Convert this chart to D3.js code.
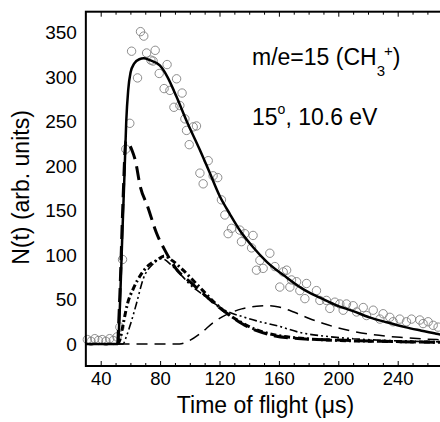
<!DOCTYPE html>
<html>
<head>
<meta charset="utf-8">
<script src="https://d3js.org/d3.v7.min.js"></script>
<style>
  body { margin: 0; background: #fff; }
  svg { display: block; font-family: "Liberation Sans", Arial, Helvetica, sans-serif; }
</style>
</head>
<body>
<div class="graph"></div>
<script>
// Measured time-of-flight points (open circles)
var dataT = [31, 33.5, 36, 38.5, 41, 43.5, 46, 48.5, 51, 52.9, 54.7, 56.9, 59.6,
  60.8, 64.8, 66.8, 69, 70.9, 73.8, 75.3, 76.7, 79.4, 82.7, 84.7, 86.6, 89.3, 91.1,
  93.3, 94.8, 96.7, 97.8, 99.6, 102.3, 104.5, 106.8, 109, 112.4, 115.7, 118.8, 121.3,
  123.6, 125.8, 128.1, 133.7, 134.8, 137, 141.6, 142.6, 144.9, 147.2, 149.4, 153.9,
  157.3, 160.6, 162.9, 165.2, 167.4, 168.5, 171.9, 174.1, 177.5, 178.6, 185.3, 187.6,
  192, 194.3, 197.7, 201, 203.3, 205.5, 210, 212.3, 216.8, 219, 223.5, 228, 230.2,
  234.7, 236.9, 241.4, 245.9, 249.3, 254.9, 257.1, 260.5, 263.9, 267.2];
var dataN = [5, 3, 6, 4, 5, 3, 6, 4, 8, 19, 95, 219, 248,
  329, 299, 351, 346, 327, 319, 318, 330, 304, 287, 314, 285, 266, 298,
  268, 282, 253, 240, 224, 244, 245, 192, 180, 206, 189, 187, 162,
  145, 124, 130, 128, 115, 124, 108, 122, 83, 94, 85, 102,
  87, 64, 81, 83, 64, 72, 70, 60, 51, 68, 60, 49,
  49, 40, 47, 45, 38, 45, 43, 36, 41, 32, 38, 28, 34,
  30, 25, 28, 25, 28, 27, 23, 25, 21, 19];

// Total fit (solid)
var fitT = [30, 51.5, 53, 54.5, 56, 57.2, 58.5, 60.1, 62.5, 66, 69, 73, 79.8, 85, 91,
  98, 106.8, 113, 120.2, 127, 134, 142.5, 152, 165, 176, 187.6, 198, 210, 221, 232.5,
  245, 256, 266, 280];
var fitN = [0, 0, 45, 120, 190, 250, 285, 305, 315, 320, 321, 319, 313, 300, 278,
  250, 218, 194, 166, 146, 127, 109, 92, 75, 62, 52, 44, 37, 30, 24.5,
  19, 15, 11.5, 8];

// Fast component (heavy long dash)
var fastT = [51.5, 53, 55, 57, 58.5, 61, 63.5, 66.5, 71.5, 77.5, 84, 91, 100, 108.8,
  117, 124.7, 135, 145, 155, 175, 200, 230, 266, 280];
var fastN = [0, 60, 160, 228, 226, 218, 205, 178, 155, 125, 103, 84, 70, 57,
  45, 35, 23, 15, 10, 6, 4.5, 3, 2, 1.5];

// Second component (heavy dash-dot)
var midT = [51.5, 53, 55.2, 58, 61.9, 67.5, 72, 77.6, 83, 88, 95.5, 102, 108.8,
  117, 124.7, 135, 145, 155, 175, 200, 230, 266, 280];
var midN = [0, 5, 23, 45, 62, 79, 88, 94, 99, 94, 83, 72, 60,
  46, 35, 24, 16, 11, 6.5, 4, 3, 2, 1.5];

// Third component (thin dash-dot-dot)
var slowT = [51.5, 55, 57.2, 60, 64, 68.6, 75.3, 81, 88, 95, 100, 110, 117, 124.7,
  135, 145, 160, 174, 190, 210, 240, 266, 280];
var slowN = [0, 0, 8, 22, 45, 73, 90, 96, 88, 76, 67, 54, 45, 37,
  31, 26, 20, 13, 9, 6, 3.5, 2.5, 2];

// Late hump (thin dashed)
var humpT = [52, 93, 100, 108, 115.7, 124.7, 135, 145, 151.7, 160, 170, 180, 190,
  207.8, 221, 241.5, 266, 280];
var humpN = [0, 0, 4, 13, 24, 33, 39.5, 42.5, 43, 41.5, 36, 29, 23,
  15, 11, 7.5, 5, 4];

var xTickLabels = [40, 80, 120, 160, 200, 240];
var yTickLabels = [0, 50, 100, 150, 200, 250, 300, 350];

var svgWidth = 440;
var svgHeight = 422;

var svg = d3.select('.graph')
  .append('svg')
  .attr('width', svgWidth)
  .attr('height', svgHeight);

// frame runs off the right edge of the picture
var x = d3.scaleLinear().domain([30, 280]).range([85.85, 457.1]);
var y = d3.scaleLinear().domain([-24.7, 373.4]).range([366, 11.7]);

function zip(ts, ns) {
  return ts.map(function(t, i) { return [t, ns[i]]; });
}

var line = d3.line()
  .x(function(d) { return x(d[0]); })
  .y(function(d) { return y(d[1]); })
  .curve(d3.curveMonotoneX);

// scatter first so the curves sit on top
svg.append('g')
  .selectAll('circle')
  .data(zip(dataT, dataN))
  .enter()
  .append('circle')
  .attr('cx', function(d) { return x(d[0]); })
  .attr('cy', function(d) { return y(d[1]); })
  .attr('r', 4.2)
  .attr('fill', 'none')
  .attr('stroke', '#808080')
  .attr('stroke-width', 0.9);

var curves = [
  { t: humpT, n: humpN, w: 1.5, dash: '11,7' },
  { t: slowT, n: slowN, w: 1.6, dash: '8,3,2,3,2,3' },
  { t: midT, n: midN, w: 3, dash: '6,3,2,3' },
  { t: fastT, n: fastN, w: 3, dash: '14,7' },
  { t: fitT, n: fitN, w: 2.5, dash: null }
];

svg.append('g')
  .selectAll('path')
  .data(curves)
  .enter()
  .append('path')
  .attr('d', function(c) { return line(zip(c.t, c.n)); })
  .attr('fill', 'none')
  .attr('stroke', '#000')
  .attr('stroke-width', function(c) { return c.w; })
  .attr('stroke-dasharray', function(c) { return c.dash; });

// frame
svg.append('rect')
  .attr('x', x(30))
  .attr('y', y.range()[1])
  .attr('width', x(280) - x(30))
  .attr('height', y.range()[0] - y.range()[1])
  .attr('fill', 'none')
  .attr('stroke', '#000')
  .attr('stroke-width', 2);

// ticks on top and bottom, pointing inwards
var minorTicks = d3.range(40, 280, 10).filter(function(t) { return t % 40 !== 0; });

var bottomAxis = svg.append('g').attr('transform', 'translate(0,' + y.range()[0] + ')');
bottomAxis.call(d3.axisBottom(x).tickValues(xTickLabels).tickSize(-5).tickPadding(6));
bottomAxis.append('g').call(d3.axisBottom(x).tickValues(minorTicks).tickSize(-3).tickFormat(''));

var topAxis = svg.append('g').attr('transform', 'translate(0,' + y.range()[1] + ')');
topAxis.call(d3.axisTop(x).tickValues(xTickLabels).tickSize(-5).tickFormat(''));
topAxis.append('g').call(d3.axisTop(x).tickValues(minorTicks).tickSize(-3).tickFormat(''));

svg.selectAll('.domain').remove();
svg.selectAll('.tick line').attr('stroke', '#000').attr('stroke-width', 1);

bottomAxis.selectAll('text')
  .attr('font-size', 18.5)
  .attr('font-family', '"Liberation Sans", Arial, sans-serif')
  .attr('fill', '#000');

// y labels only, no tick marks
var leftAxis = svg.append('g').attr('transform', 'translate(' + x(30) + ',0)');
leftAxis.call(d3.axisLeft(y).tickValues(yTickLabels).tickSize(0).tickPadding(9));
leftAxis.select('.domain').remove();
leftAxis.selectAll('text')
  .attr('font-size', 19)
  .attr('font-family', '"Liberation Sans", Arial, sans-serif')
  .attr('fill', '#000');

// axis titles
svg.append('text')
  .attr('x', 265.5)
  .attr('y', 413)
  .attr('text-anchor', 'middle')
  .attr('font-size', 23)
  .text('Time of flight (\u03bcs)');

svg.append('text')
  .attr('transform', 'translate(29,187.5) rotate(-90)')
  .attr('text-anchor', 'middle')
  .attr('font-size', 23)
  .text('N(t) (arb. units)');

// annotations
var label1 = svg.append('text')
  .attr('x', 252)
  .attr('y', 65)
  .attr('font-size', 23);
label1.append('tspan').text('m/e=15 (CH');
label1.append('tspan').attr('font-size', 15).attr('dy', 11).text('3');
label1.append('tspan').attr('font-size', 15).attr('dy', -20).attr('dx', -1).text('+');
label1.append('tspan').attr('dy', 9).text(')');

var label2 = svg.append('text')
  .attr('x', 252)
  .attr('y', 125)
  .attr('font-size', 23);
label2.append('tspan').text('15');
label2.append('tspan').attr('font-size', 14).attr('dy', -11).text('o');
label2.append('tspan').attr('dy', 11).text(', 10.6 eV');
</script>
</body>
</html>
